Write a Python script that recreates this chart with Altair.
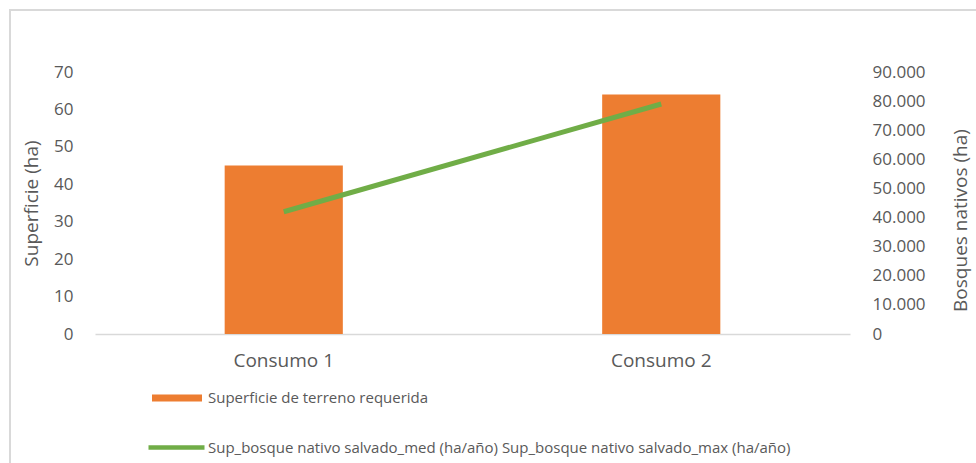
import altair as alt
import pandas as pd

# Chart values
categories = ["Consumo 1", "Consumo 2"]
superficie = [45, 64]           # ha (left axis)
bosque = [42000, 79000]         # ha (right axis)

bar_label = "Superficie de terreno requerida"
line_label = "Sup_bosque nativo salvado_med (ha/año) Sup_bosque nativo salvado_max (ha/año)"

df = pd.DataFrame({
    "categoria": categories,
    "superficie": superficie,
    "bosque": bosque,
    "serie_barra": [bar_label] * len(categories),
    "serie_linea": [line_label] * len(categories),
})

FONT = "Open Sans"
GREY = "#595959"
ORANGE = "#ED7D31"
GREEN = "#70AD47"

x_enc = alt.X(
    "categoria:N",
    sort=categories,
    scale=alt.Scale(paddingInner=0.687, paddingOuter=0.3435),
    axis=alt.Axis(
        title=None, labelAngle=0, ticks=False, domainColor="#d9d9d9",
        domainWidth=1.5, labelPadding=17, labelFontSize=19, labelColor=GREY,
        labelFont=FONT,
    ),
)

bars = alt.Chart(df).mark_bar(color=ORANGE).encode(
    x=x_enc,
    y=alt.Y(
        "superficie:Q",
        scale=alt.Scale(domain=[0, 70], nice=False),
        axis=alt.Axis(
            title="Superficie (ha)", values=list(range(0, 71, 10)),
            grid=False, domain=False, ticks=False, labelPadding=22,
            labelFontSize=17, labelColor=GREY, labelFont=FONT,
            titleFontSize=19, titleColor=GREY, titleFont=FONT,
            titleFontWeight="normal", titlePadding=12,
        ),
    ),
    color=alt.Color(
        "serie_barra:N",
        scale=alt.Scale(range=[ORANGE]),
        legend=alt.Legend(
            title=None, orient="none", legendX=57, legendY=301,
            symbolType="M-1,-0.14H1V0.14H-1Z", symbolSize=2500,
            symbolStrokeWidth=0, labelFontSize=15, labelColor=GREY,
            labelFont=FONT, labelOffset=6, labelLimit=0,
        ),
    ),
)

line = alt.Chart(df).mark_line(strokeWidth=5, color=GREEN).encode(
    x=alt.X("categoria:N", sort=categories, bandPosition=0.5),
    y=alt.Y(
        "bosque:Q",
        scale=alt.Scale(domain=[0, 90000], nice=False),
        axis=alt.Axis(
            title="Bosques nativos (ha)", orient="right", titleAngle=270,
            titleY=148,
            values=list(range(0, 90001, 10000)),
            labelExpr="replace(format(datum.value, ','), ',', '.')",
            grid=False, domain=False, ticks=False, labelPadding=22,
            labelFontSize=17, labelColor=GREY, labelFont=FONT,
            titleFontSize=19, titleColor=GREY, titleFont=FONT,
            titleFontWeight="normal", titlePadding=45,
        ),
    ),
    stroke=alt.Stroke(
        "serie_linea:N",
        scale=alt.Scale(range=[GREEN]),
        legend=alt.Legend(
            title=None, orient="none", legendX=51, legendY=345,
            symbolType="stroke", symbolSize=3136, symbolStrokeWidth=4.5,
            labelFontSize=15, labelColor=GREY, labelFont=FONT,
            labelOffset=1, labelLimit=0,
        ),
    ),
)

# Light outer frame around the whole chart
frame = alt.Chart(df).mark_rect(
    fill=None, stroke="#d9d9d9", strokeWidth=2
).encode(
    x=alt.value(-85), x2=alt.value(1000),
    y=alt.value(-62), y2=alt.value(500),
)

chart = (
    alt.layer(frame, bars, line)
    .resolve_scale(y="independent", color="independent", stroke="independent")
    .properties(
        width=755, height=262,
        padding={"left": 95, "top": 72, "right": 126, "bottom": 129},
        autosize=alt.AutoSizeParams(type="none"),
        background="white",
    )
    .configure_view(stroke=None)
)

chart.save("out.html", embed_options={"renderer": "svg", "actions": False})
